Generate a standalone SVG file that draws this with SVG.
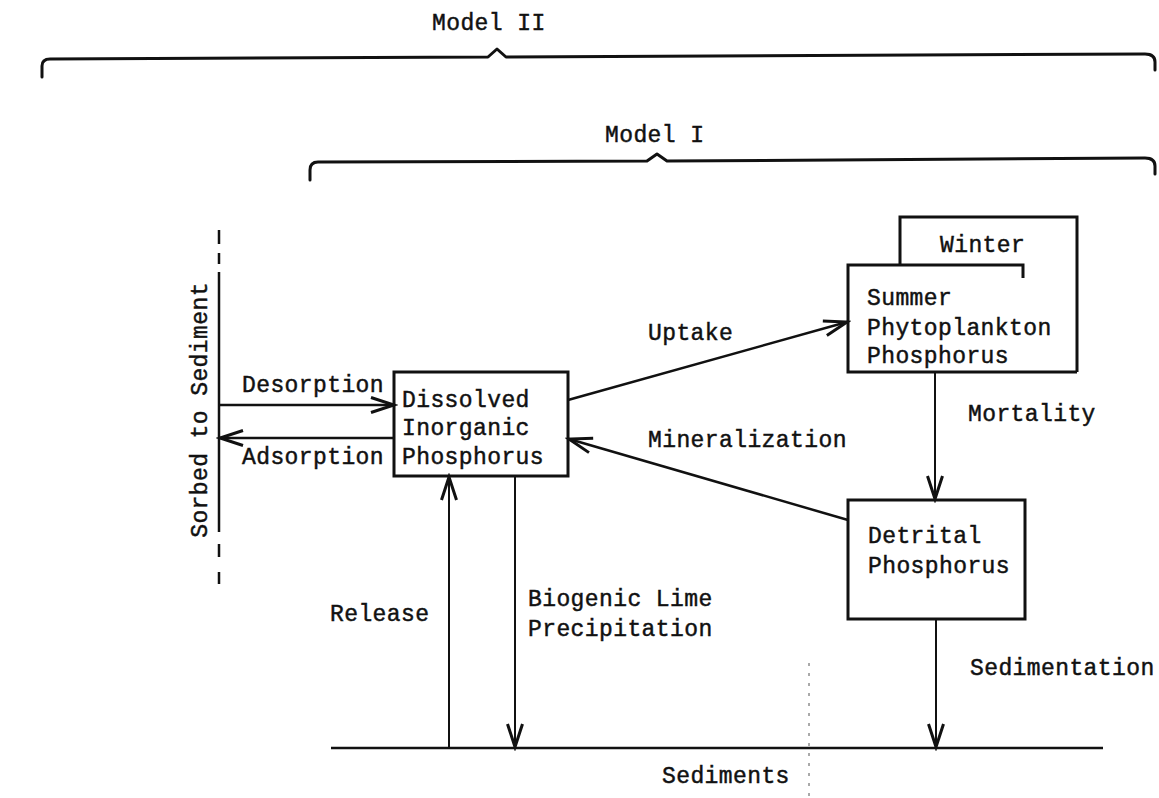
<svg xmlns="http://www.w3.org/2000/svg" width="1159" height="798" viewBox="0 0 1159 798">
  <style>
    text { font-family: "Liberation Mono", "DejaVu Sans Mono", monospace; font-size: 23px; letter-spacing: 0.4px; fill: #111; stroke: #111; stroke-width: 0.45px; }
    .box { fill: none; stroke: #111; stroke-width: 3; stroke-linejoin: miter; }
    .brace { fill: none; stroke: #111; stroke-width: 3; stroke-linecap: round; stroke-linejoin: round; }
    .flow { fill: none; stroke: #111; stroke-width: 2.5; }
    .thin { fill: none; stroke: #111; stroke-width: 2; }
  </style>
  <defs>
    <marker id="arrow" markerUnits="userSpaceOnUse" markerWidth="30" markerHeight="24" refX="0" refY="0" viewBox="-26 -12 30 24" orient="auto">
      <path d="M-23,-7.5 L0,0 L-23,7.5" fill="none" stroke="#111" stroke-width="3"/>
    </marker>
  </defs>

  <rect width="1159" height="798" fill="#fff"/>

  <!-- model scope braces -->
  <g id="model-ii">
    <path class="brace" d="M42,77 V66 Q42,59 50,59 L488,57 L497,49 L506,57 L1145,54 Q1155,54 1155,62 V70"/>
    <text x="432" y="30">Model II</text>
  </g>
  <g id="model-i">
    <path class="brace" d="M310,180 V170 Q310,162 318,162 L647,161 L657,154 L667,161 L1145,158 Q1155,158 1155,166 V174"/>
    <text x="605" y="142">Model I</text>
  </g>

  <!-- sorbed phosphorus boundary -->
  <g id="sorbed">
    <path class="flow" d="M219,230 V244 M219,253 V264 M219,272 V532 M219,544 V557 M219,572 V584"/>
    <text transform="translate(207,410) rotate(-90)" text-anchor="middle">Sorbed to Sediment</text>
  </g>

  <!-- sediment surface -->
  <g id="sediments">
    <path class="flow" d="M331,748 H1103"/>
    <path d="M809,663 V798" fill="none" stroke="#555" stroke-width="1" stroke-dasharray="3 7"/>
    <text x="662" y="783">Sediments</text>
  </g>

  <g id="dissolved">
    <rect class="box" x="394" y="372" width="174" height="104"/>
    <text x="402" y="407">Dissolved</text>
    <text x="402" y="435">Inorganic</text>
    <text x="402" y="464">Phosphorus</text>
  </g>

  <g id="phytoplankton">
    <path class="box" d="M900,265 V217 H1077 V372"/>
    <path class="box" d="M1023,278 V265 H848 V372 H1077"/>
    <text x="940" y="252">Winter</text>
    <text x="867" y="305">Summer</text>
    <text x="867" y="335">Phytoplankton</text>
    <text x="867" y="363">Phosphorus</text>
  </g>

  <g id="detrital">
    <rect class="box" x="848" y="500" width="177" height="119"/>
    <text x="868" y="543">Detrital</text>
    <text x="868" y="573">Phosphorus</text>
  </g>

  <!-- fluxes -->
  <g id="connectors">
    <path class="flow" d="M219,405 H394" marker-end="url(#arrow)"/>
    <path class="flow" d="M394,438 H220" marker-end="url(#arrow)"/>
    <path class="flow" d="M568,400 L847,322" marker-end="url(#arrow)"/>
    <path class="flow" d="M848,520 L569,439" marker-end="url(#arrow)"/>
    <path class="thin" d="M935,372 V499" marker-end="url(#arrow)"/>
    <path class="thin" d="M936,619 V747" marker-end="url(#arrow)"/>
    <path class="thin" d="M449,748 V477" marker-end="url(#arrow)"/>
    <path class="thin" d="M515,476 V747" marker-end="url(#arrow)"/>
  </g>

  <g id="labels">
    <text x="242" y="392">Desorption</text>
    <text x="242" y="464">Adsorption</text>
    <text x="648" y="340">Uptake</text>
    <text x="648" y="447">Mineralization</text>
    <text x="968" y="421">Mortality</text>
    <text x="330" y="621">Release</text>
    <text x="528" y="606">Biogenic Lime</text>
    <text x="528" y="636">Precipitation</text>
    <text x="970" y="675">Sedimentation</text>
  </g>
</svg>
